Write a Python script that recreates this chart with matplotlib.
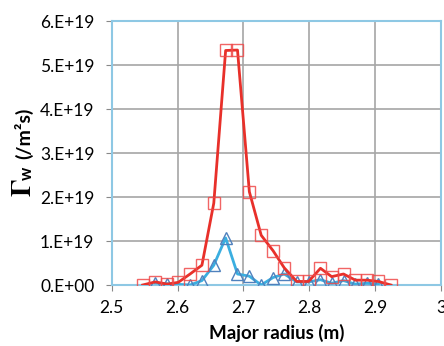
import matplotlib
matplotlib.use("Agg")
import matplotlib.pyplot as plt

# Datos
r_rojo = [2.547, 2.566, 2.584, 2.601, 2.619, 2.637, 2.655, 2.673, 2.691, 2.709, 2.727,
          2.745, 2.762, 2.781, 2.799, 2.817, 2.834, 2.852, 2.870, 2.888, 2.905, 2.924]
g_rojo = [0.0, 0.07, 0.02, 0.06, 0.25, 0.45, 1.86, 5.33, 5.34, 2.12, 1.13,
          0.78, 0.39, 0.08, 0.08, 0.38, 0.19, 0.25, 0.11, 0.11, 0.08, 0.0]

r_azul = [2.566, 2.584, 2.619, 2.637, 2.655, 2.673, 2.691, 2.709, 2.727, 2.745,
          2.762, 2.781, 2.799, 2.817, 2.834, 2.852, 2.870, 2.888, 2.905]
g_azul = [0.05, 0.03, 0.0, 0.1, 0.45, 1.07, 0.25, 0.2, 0.0, 0.17,
          0.25, 0.07, 0.07, 0.12, 0.04, 0.1, 0.02, 0.04, 0.02]

x_ticks = [2.5, 2.6, 2.7, 2.8, 2.9, 3.0]
x_labels = ["2.5", "2.6", "2.7", "2.8", "2.9", "3"]
y_ticks = [0, 1, 2, 3, 4, 5, 6]
y_labels = ["0.E+00", "1.E+19", "2.E+19", "3.E+19", "4.E+19", "5.E+19", "6.E+19"]

plt.rcParams['font.family'] = ['Lato', 'DejaVu Sans']
plt.rcParams['mathtext.fontset'] = 'stix'

fig = plt.figure(figsize=(4.44, 3.46), dpi=100)
ax = fig.add_axes([0.2516, 0.1763, 0.7416, 0.763])

ax.plot(r_azul, g_azul, color='#3aaee0', lw=2, zorder=3)
ax.plot(r_azul, g_azul, ls='none', marker='^', ms=8, mfc='none', mec='#4f81bd',
        mew=1, zorder=4)
ax.plot(r_rojo, g_rojo, color='#e8302a', lw=2, zorder=5)
ax.plot(r_rojo, g_rojo, ls='none', marker='s', ms=8, mfc='none', mec='#ef4a4a',
        mew=1, alpha=0.85, zorder=6)

ax.set_xlim(2.5, 3.0)
ax.set_ylim(0, 6)
ax.set_xticks(x_ticks)
ax.set_xticklabels(x_labels)
ax.set_yticks(y_ticks)
ax.set_yticklabels(y_labels)
ax.tick_params(axis='both', labelsize=12.5, colors='#888888', labelcolor='black',
               length=4.5, direction='out')
ax.tick_params(axis='y', pad=8)
ax.tick_params(axis='x', pad=6)

ax.grid(True, color='#a6a6a6', lw=1.2)
ax.set_axisbelow(True)
for s in ax.spines.values():
    s.set_color('#8ec8e4')
    s.set_linewidth(1.5)

ax.set_xlabel('Major radius (m)', fontsize=13.5, fontweight='bold', labelpad=6)

# Etiqueta del eje y: Γ grande con serifa, subíndice w y unidades en negrita
fig.text(23 / 444, 1 - 188 / 346, r'$\mathbf{\Gamma}$', rotation=90, ha='center',
         va='center', fontsize=20)
fig.text(27 / 444, 1 - 173 / 346, 'w', rotation=90, ha='center', va='center',
         fontsize=12, fontweight='bold')
fig.text(24 / 444, 1 - 133 / 346, '(/m²s)', rotation=90, ha='center', va='center',
         fontsize=14, fontweight='bold')

fig.savefig('out.png', dpi=100)
